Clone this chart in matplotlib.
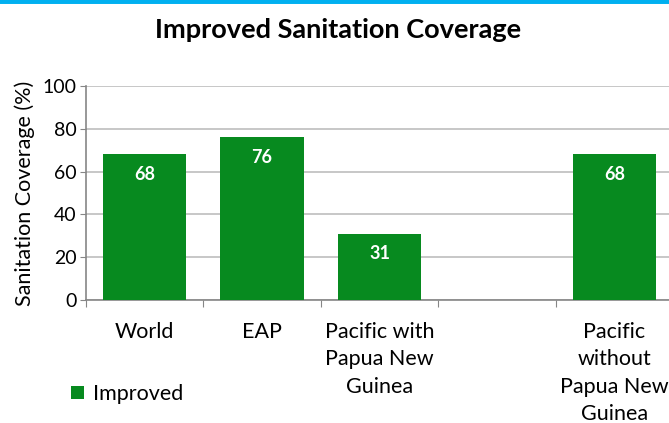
import matplotlib.pyplot as plt
import numpy as np

plt.rcParams['font.family'] = ['Lato', 'DejaVu Sans']

# chart data
categories = ['World', 'EAP', 'Pacific with\nPapua New\nGuinea', '', 'Pacific\nwithout\nPapua New\nGuinea']
improved = [68, 76, 31, np.nan, 68]
yticks = [0, 20, 40, 60, 80, 100]

green = '#078A1F'
axis_grey = '#868686'

fig = plt.figure(figsize=(6.69, 4.23), dpi=100)
# axes runs past the right edge like the cropped original
ax = fig.add_axes([86 / 669, 123 / 423, 587 / 669, 214 / 423])

x = np.arange(len(categories))
bars = ax.bar(x, improved, width=0.71, color=green, zorder=3, label='Improved')

for xi, v in zip(x, improved):
    if not np.isnan(v):
        ax.text(xi, v - 5.5, f'{v:.0f}', ha='center', va='top', color='white',
                fontsize=13, fontweight='bold', zorder=4)

ax.set_xlim(-0.5, len(categories) - 0.5)
ax.set_ylim(0, 100)
ax.set_yticks(yticks)
ax.tick_params(axis='y', length=4, color=axis_grey, labelsize=14, pad=3)
ax.yaxis.grid(True, color='#BEBEBE', linewidth=1.2, zorder=0)

# category boundaries carry the x ticks
ax.set_xticks(np.arange(len(categories) + 1) - 0.5)
ax.set_xticklabels([])
ax.set_xticks(x, minor=True)
ax.set_xticklabels(categories, minor=True, fontsize=15.5, linespacing=1.45)
ax.tick_params(axis='x', which='major', length=5, color=axis_grey)
ax.tick_params(axis='x', which='minor', length=0, pad=16)

for side in ['top', 'right']:
    ax.spines[side].set_visible(False)
for side in ['left', 'bottom']:
    ax.spines[side].set_color(axis_grey)
    ax.spines[side].set_linewidth(1.2)

ax.set_ylabel('Sanitation Coverage (%)', fontsize=15.5, labelpad=5)

fig.text(338 / 669, 1 - 30 / 423, 'Improved Sanitation Coverage', ha='center', va='center',
         fontsize=19.5, fontweight='bold')

fig.legend(handles=[bars], loc='center left', bbox_to_anchor=(52 / 669, 1 - 394 / 423),
           frameon=False, fontsize=15.5, handlelength=0.6, handleheight=0.6, handletextpad=0.4)

# thin blue band along the top edge
fig.add_artist(plt.Line2D([0, 1], [1, 1], transform=fig.transFigure, color='#00B0F0', linewidth=5))

fig.savefig('out.png', dpi=100)
